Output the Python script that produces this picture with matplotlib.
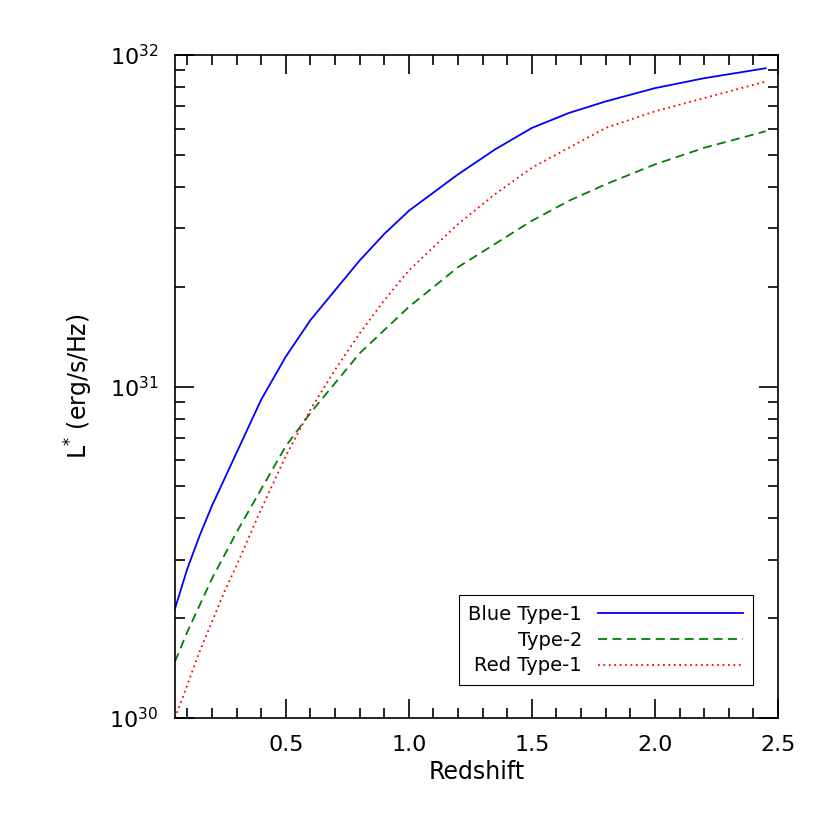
import matplotlib
matplotlib.use("Agg")
import matplotlib.pyplot as plt
import numpy as np
from matplotlib.ticker import MultipleLocator, LogLocator, FixedLocator, NullFormatter

z = [0.05,0.1,0.15,0.2,0.25,0.3,0.4,0.5,0.6,0.7,0.8,0.9,1.0,1.1,1.2,1.35,1.5,1.65,1.8,2.0,2.2,2.45]
log_blue1 = [30.33,30.45,30.55,30.64,30.72,30.80,30.96,31.09,31.20,31.29,31.38,31.46,31.53,31.585,31.64,31.715,31.78,31.825,31.86,31.90,31.93,31.96]
log_type2 = [30.17,30.26,30.34,30.42,30.49,30.56,30.69,30.82,30.92,31.01,31.10,31.17,31.24,31.30,31.36,31.43,31.50,31.56,31.61,31.67,31.72,31.77]
log_red1 = [30.0,30.10,30.20,30.29,30.38,30.46,30.63,30.79,30.93,31.05,31.16,31.26,31.35,31.42,31.49,31.58,31.66,31.72,31.78,31.83,31.87,31.92]

fig = plt.figure(figsize=(8.3,8.3), dpi=100)
ax = fig.add_axes([175/830, 1-718/830, (778-175)/830, (718-55)/830])
zz = np.array(z)
ax.plot(zz, 10**np.array(log_blue1), color='#0000ff', lw=1.3, label='Blue Type-1')
ax.plot(zz, 10**np.array(log_type2), color='#008000', lw=1.3, ls=(0,(5,3)), label='Type-2')
ax.plot(zz, 10**np.array(log_red1), color='#ff0000', lw=1.3, ls=(0,(1,2)), label='Red Type-1')
ax.set_yscale('log')
ax.set_xlim(0.05, 2.5)
ax.set_ylim(1e30, 1e32)
ax.xaxis.set_major_locator(MultipleLocator(0.5))
ax.xaxis.set_minor_locator(MultipleLocator(0.1))
ax.yaxis.set_major_locator(FixedLocator([1e30,1e31,1e32]))
ax.yaxis.set_minor_locator(LogLocator(base=10, subs=np.arange(2,10)))
ax.yaxis.set_minor_formatter(NullFormatter())
ax.set_yticklabels(['$10^{30}$','$10^{31}$','$10^{32}$'])
ax.tick_params(which='both', direction='in', top=True, right=True, labelsize=16, width=1.2)
ax.tick_params(which='major', length=14, pad=12)
ax.tick_params(which='minor', length=7)
for s in ax.spines.values():
    s.set_linewidth(1.2)
ax.set_xlabel('Redshift', fontsize=17)
ax.set_ylabel('L$^{*}$ (erg/s/Hz)', fontsize=17, labelpad=10)
leg = ax.legend(loc='lower right', bbox_to_anchor=(0.975, 0.035), fontsize=14, fancybox=False,
                edgecolor='black', markerfirst=False, handlelength=7.5, framealpha=1,
                borderpad=0.5, labelspacing=0.35)
leg.get_frame().set_linewidth(0.8)
for t in leg.get_texts():
    t.set_ha('right')
fig.savefig('out.png', dpi=100)
